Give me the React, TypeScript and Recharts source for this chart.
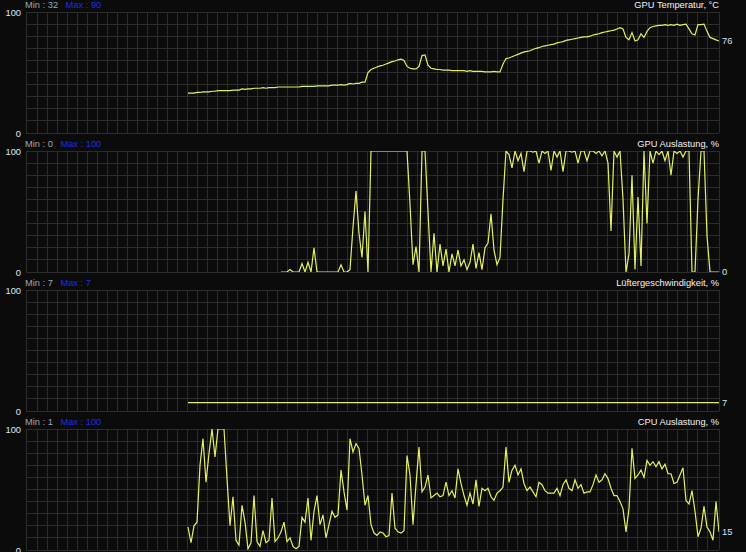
import React from 'react';
import { LineChart, Line, XAxis, YAxis, CartesianGrid } from 'recharts';

// sample index of the first value in every series; the x axis runs 0..X_MAX
const START = 54;
const X_MAX = 231;

const TEMP = [
  33, 33, 33, 33.5, 33.5, 34, 34, 34, 34.5, 34.5,
  35, 35, 35, 35, 35, 35.5, 35.5, 35.5, 36.5, 36,
  36.5, 36.5, 37, 37, 37, 37.5, 37, 37.5, 37.5, 37.5,
  38, 38, 38, 38, 38, 38, 38, 38, 38.5, 38.5,
  38.5, 38.5, 38.5, 39, 39, 39, 39, 39, 39.5, 39.5,
  39.5, 40, 39.5, 40, 41, 40.5, 41, 41, 42, 42,
  50, 52.5, 53.5, 54.5, 55.5, 56, 57, 58, 59, 59.5,
  60.5, 61, 60, 55, 53.5, 53, 53, 55, 64, 64.5,
  56, 53.5, 53, 52.5, 52.5, 52, 52, 52, 51.5, 51.5,
  51.5, 51.5, 51.5, 51, 51.5, 51, 51, 51, 51, 50.5,
  50.5, 50.5, 51, 50.5, 50.5, 57, 61.5, 62, 63, 64,
  65, 66, 67, 67.5, 68, 69, 70, 70.5, 71.5, 72,
  72.5, 73, 73.5, 74.5, 75, 75.5, 76.5, 77, 77.5, 78,
  78.5, 79, 79.5, 79.5, 80, 81, 81.5, 82, 83, 83.5,
  84, 84.5, 85, 86, 87, 86, 79, 77, 83, 76,
  77, 82, 79, 84, 87, 88, 88.5, 89, 89, 89.5,
  89, 89.5, 89, 90, 89, 89.5, 90, 86, 82, 81,
  89.5, 89.5, 90, 84, 79, 78, 77, 76,
];

const GPU_LOAD = [
  null, null, null, null, null, null, null, null, null, null,
  null, null, null, null, null, null, null, null, null, null,
  null, null, null, null, null, null, null, null, null, null,
  null,
  0, 0, 0, 2, 0, 0, 0, 7, 0, 8,
  0, 20, 0, 0, 0, 0, 0, 0, 0, 0,
  6, 0, 0, 2, 37, 67, 32, 12, 50, 0,
  100, 100, 100, 100, 100, 100, 100, 100, 100, 100,
  100, 100, 100, 56, 6, 21, 0, 100, 100, 50,
  0, 32, 0, 23, 5, 19, 0, 15, 5, 18,
  5, 10, 2, 8, 23, 3, 16, 2, 20, 24,
  48, 18, 6, 12, 60, 100, 97, 86, 100, 92,
  98, 83, 100, 100, 99, 100, 90, 100, 98, 100,
  84, 100, 95, 100, 83, 100, 100, 99, 100, 90,
  100, 100, 92, 100, 100, 98, 100, 96, 100, 90,
  34, 100, 95, 100, 60, 0, 15, 80, 2, 62,
  5, 100, 40, 100, 90, 100, 97, 100, 92, 100,
  80, 100, 98, 100, 95, 100, 100, 0, 0, 60,
  100, 100, 30, 0, 0, 0, 0,
];

const FAN = [
  7, 7, 7, 7, 7, 7, 7, 7, 7, 7,
  7, 7, 7, 7, 7, 7, 7, 7, 7, 7,
  7, 7, 7, 7, 7, 7, 7, 7, 7, 7,
  7, 7, 7, 7, 7, 7, 7, 7, 7, 7,
  7, 7, 7, 7, 7, 7, 7, 7, 7, 7,
  7, 7, 7, 7, 7, 7, 7, 7, 7, 7,
  7, 7, 7, 7, 7, 7, 7, 7, 7, 7,
  7, 7, 7, 7, 7, 7, 7, 7, 7, 7,
  7, 7, 7, 7, 7, 7, 7, 7, 7, 7,
  7, 7, 7, 7, 7, 7, 7, 7, 7, 7,
  7, 7, 7, 7, 7, 7, 7, 7, 7, 7,
  7, 7, 7, 7, 7, 7, 7, 7, 7, 7,
  7, 7, 7, 7, 7, 7, 7, 7, 7, 7,
  7, 7, 7, 7, 7, 7, 7, 7, 7, 7,
  7, 7, 7, 7, 7, 7, 7, 7, 7, 7,
  7, 7, 7, 7, 7, 7, 7, 7, 7, 7,
  7, 7, 7, 7, 7, 7, 7, 7, 7, 7,
  7, 7, 7, 7, 7, 7, 7, 7,
];

const CPU = [
  19, 6, 20, 23, 70, 92, 56, 80, 100, 77,
  100, 100, 100, 59, 20, 44, 8, 4, 37, 23,
  1, 6, 45, 7, 3, 16, 6, 8, 43, 7,
  10, 15, 23, 7, 10, 3, 1, 3, 27, 23,
  43, 8, 32, 45, 21, 29, 10, 21, 32, 27,
  29, 66, 48, 33, 92, 81, 88, 84, 62, 37,
  45, 21, 14, 12, 15, 14, 11, 12, 47, 18,
  15, 14, 16, 78, 62, 21, 54, 85, 48, 52,
  62, 43, 45, 47, 44, 45, 56, 45, 49, 43,
  67, 55, 45, 37, 47, 38, 58, 36, 51, 49,
  51, 44, 41, 47, 49, 52, 85, 56, 66, 70,
  62, 67, 55, 49, 52, 48, 44, 56, 54, 49,
  47, 47, 47, 51, 45, 54, 58, 51, 49, 58,
  51, 54, 47, 48, 48, 54, 62, 56, 58, 63,
  59, 51, 45, 45, 40, 34, 15, 34, 84, 59,
  62, 66, 60, 74, 70, 73, 69, 73, 67, 71,
  63, 63, 55, 56, 62, 68, 41, 38, 49, 32,
  11, 18, 36, 19, 15, 8, 40, 15,
];

const SERIES_KEYS = ['temp', 'gpu', 'fan', 'cpu'];
const TITLES = ['GPU Temperatur, °C', 'GPU Auslastung, %', 'Lüftergeschwindigkeit, %', 'CPU Auslastung, %'];
const MIN_LABELS = ['32', '0', '7', '1'];
const MAX_LABELS = ['90', '100', '7', '100'];
const Y_LABELS = [0, 100];
const Y_GRID = [0, 10, 20, 30, 40, 50, 60, 70, 80, 90, 100];

const rows = TEMP.map((v, i) => ({
  t: START + i,
  temp: v,
  gpu: GPU_LOAD[i],
  fan: FAN[i],
  cpu: CPU[i],
}));

// vertical grid every 10 px (3 px per sample unit)
const X_GRID: number[] = [0];
for (let k = 1; k <= 68; k++) X_GRID.push((1 + 10 * k) / 3);
X_GRID.push(X_MAX);

const BG = '#0b0b0b';
const GRID = '#2c2c2c';
const LINE = '#e4f060';
const FONT = '"Liberation Sans", Arial, sans-serif';
const FS = 9.3;

const CHART_TOPS = [0, 139, 278, 417];
const CHART_H = [139, 139, 139, 135];
const PLOT_TOP = 12;
const PLOT_H = 121;

const verticalGen = (props: any) => {
  const xAxis = props && props.xAxis;
  if (xAxis && typeof xAxis.scale === 'function') {
    return X_GRID.map((v) => xAxis.scale(v));
  }
  const off = props.offset;
  return X_GRID.map((v) => off.left + (v / X_MAX) * off.width);
};

const renderYTick = (props: any) => {
  const { y, payload } = props;
  if (!Y_LABELS.includes(payload.value)) return <g />;
  return (
    <text x={21} y={y + 3.5} textAnchor="end" fill="#dde8f4" fontSize={FS} fontFamily={FONT}>
      {payload.value}
    </text>
  );
};

const makeEndLabel = (n: number) => (props: any) => {
  const { x, y, index, value } = props;
  if (index !== n - 1 || value == null) return <g />;
  return (
    <text x={x + 3} y={y + 3} fill="#d6e4f2" fontSize={FS} fontFamily={FONT}>
      {value}
    </text>
  );
};

export default function App() {
  return (
    <div
      style={{
        position: 'fixed',
        left: 0,
        top: 0,
        width: 746,
        height: 552,
        background: BG,
        overflow: 'hidden',
        fontFamily: FONT,
      }}
    >
      <style>{`.recharts-cartesian-grid line{shape-rendering:crispEdges}`}</style>
      {SERIES_KEYS.map((key, k) => (
        <div key={key} style={{ position: 'absolute', left: 0, top: CHART_TOPS[k] }}>
          <LineChart
            width={746}
            height={CHART_H[k]}
            data={rows}
            margin={{ top: PLOT_TOP, right: 27, bottom: CHART_H[k] - PLOT_TOP - PLOT_H, left: 0 }}
          >
            <CartesianGrid stroke={GRID} strokeWidth={1} verticalCoordinatesGenerator={verticalGen} />
            <XAxis
              type="number"
              dataKey="t"
              domain={[0, X_MAX]}
              ticks={X_GRID}
              interval={0}
              height={0}
              tick={false}
              axisLine={false}
              tickLine={false}
              allowDataOverflow
            />
            <YAxis
              type="number"
              domain={[0, 100]}
              ticks={Y_GRID}
              interval={0}
              width={26}
              axisLine={false}
              tickLine={false}
              tick={renderYTick}
              allowDataOverflow
            />
            <Line
              type="linear"
              dataKey={key}
              stroke={LINE}
              strokeWidth={1.2}
              dot={false}
              activeDot={false}
              connectNulls={false}
              isAnimationActive={false}
              label={makeEndLabel(rows.length)}
            />
          </LineChart>
        </div>
      ))}
      <svg
        width={746}
        height={552}
        style={{ position: 'absolute', left: 0, top: 0, pointerEvents: 'none' }}
      >
        {SERIES_KEYS.map((key, k) => (
          <g key={key} fontFamily={FONT} fontSize={FS}>
            <text x={25} y={CHART_TOPS[k] + 8.3}>
              <tspan fill="#98a9b8">{`Min : ${MIN_LABELS[k]}`}</tspan>
              <tspan fill="#1f2ce8" dx={7.5}>{`Max : ${MAX_LABELS[k]}`}</tspan>
            </text>
            <text x={719} y={CHART_TOPS[k] + 8.3} textAnchor="end" fill="#f2f2f2">
              {TITLES[k]}
            </text>
          </g>
        ))}
      </svg>
    </div>
  );
}
